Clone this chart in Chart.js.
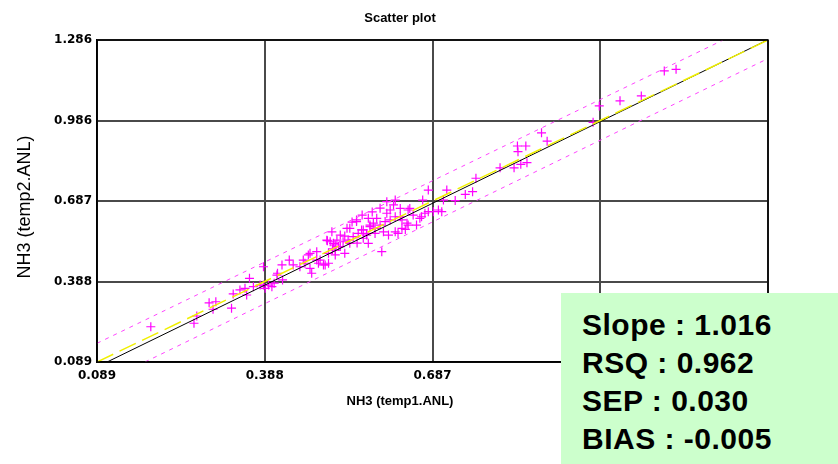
<!DOCTYPE html>
<html><head><meta charset="utf-8">
<script src="https://cdn.jsdelivr.net/npm/chart.js@4"></script>
<style>
html,body{margin:0;padding:0;background:#fff;}
#wrap{position:relative;width:838px;height:464px;overflow:hidden;}
#stats{position:absolute;left:561px;top:293px;width:277px;height:171px;background:#ccffcc;box-sizing:border-box;padding:13px 0 0 21px;font:bold 30px "Liberation Sans",Arial,sans-serif;line-height:38px;letter-spacing:0.5px;color:#000;white-space:nowrap;}
</style></head><body>
<div id="wrap"><canvas id="c" width="838" height="464"></canvas><div id="stats"></div></div>
<script>
const chartTitle = 'Scatter plot';
const xAxisTitle = 'NH3 (temp1.ANL)';
const yAxisTitle = 'NH3 (temp2.ANL)';
const tickLabels = ['0.089','0.388','0.687','0.986','1.286'];
const axisMin = 0.089, axisMax = 1.286;
const statLines = ['Slope : 1.016','RSQ : 0.962','SEP : 0.030','BIAS : -0.005'];

const xValues = [0.185,0.262,0.267,0.289,0.301,0.296,0.329,0.332,0.344,0.353,0.361,0.356,0.368,0.386,0.386,0.389,0.401,0.405,0.411,0.420,
0.419,0.432,0.439,0.451,0.460,0.466,0.472,0.481,0.484,0.493,0.502,0.505,0.514,0.487,0.500,0.508,0.511,0.517,0.523,0.528,
0.514,0.531,0.537,0.540,0.552,0.555,0.561,0.564,0.570,0.576,0.573,0.582,0.585,0.588,0.594,0.600,0.603,0.597,0.606,0.612,
0.618,0.621,0.630,0.633,0.606,0.621,0.680,0.713,0.746,0.670,0.707,0.728,0.698,0.680,0.668,0.689,0.644,0.653,0.642,0.659,
0.633,0.621,0.609,0.704,0.674,0.665,0.647,0.630,0.644,0.639,0.626,0.759,0.765,0.502,0.514,0.509,0.520,0.540,0.546,0.570,
0.564,0.576,0.585,0.535,0.552,0.573,0.499,0.469,0.457,0.481,0.496,0.469,0.410,0.395,0.380,0.523,0.544,0.562,0.580,0.594,
0.612,0.553,0.531,1.101,1.122,1.060,1.022,0.985,0.974,0.882,0.892,0.839,0.854,0.840,0.808,0.833,0.845,0.856];
const yValues = [0.220,0.233,0.260,0.309,0.313,0.285,0.289,0.342,0.357,0.363,0.400,0.338,0.369,0.443,0.375,0.363,0.369,0.382,0.419,0.394,
0.450,0.468,0.450,0.443,0.456,0.487,0.419,0.499,0.456,0.450,0.456,0.536,0.524,0.468,0.540,0.573,0.530,0.542,0.518,0.536,
0.505,0.493,0.542,0.586,0.617,0.567,0.580,0.549,0.567,0.592,0.530,0.605,0.567,0.623,0.598,0.573,0.611,0.499,0.642,0.654,
0.673,0.629,0.660,0.617,0.685,0.691,0.728,0.728,0.712,0.691,0.691,0.689,0.654,0.648,0.629,0.648,0.654,0.635,0.605,0.598,
0.586,0.573,0.561,0.648,0.642,0.623,0.660,0.629,0.598,0.582,0.567,0.722,0.772,0.493,0.487,0.510,0.518,0.530,0.555,0.561,
0.580,0.598,0.586,0.586,0.611,0.623,0.542,0.493,0.468,0.468,0.450,0.437,0.412,0.375,0.375,0.561,0.609,0.635,0.647,0.661,
0.617,0.531,0.557,1.171,1.177,1.078,1.060,1.041,0.980,0.941,0.910,0.892,0.892,0.871,0.811,0.811,0.824,0.830];

const identityX = [0.089, 1.286], identityY = [0.089, 1.286];
const regressionX = [0.107, 1.286], regressionY = [0.089, 1.287];
const upperX = [0.089, 1.206], upperY = [0.1585, 1.286];
const lowerX = [0.1746, 1.2806], lowerY = [0.089, 1.2117];

document.getElementById('stats').innerHTML = statLines.map(s => '<div>' + s + '</div>').join('');

const pts = (xs, ys) => xs.map((x, i) => ({x: x, y: ys[i]}));
const tickFont = {family: '"DejaVu Sans"', size: 12, weight: 'bold'};

const titlesPlugin = {
  id: 'titles',
  afterDraw(chart) {
    const ctx = chart.ctx, a = chart.chartArea;
    ctx.save();
    ctx.strokeStyle = '#000'; ctx.lineWidth = 1.5;
    ctx.strokeRect(a.left, a.top, a.right - a.left, a.bottom - a.top);
    ctx.fillStyle = '#000';
    ctx.textAlign = 'center'; ctx.textBaseline = 'alphabetic';
    ctx.font = 'bold 13px "Liberation Sans"';
    ctx.fillText(chartTitle, 400, 22);
    ctx.fillText(xAxisTitle, 400, 405);
    ctx.translate(30, 207); ctx.rotate(-Math.PI / 2);
    ctx.font = '18px "Liberation Sans"';
    ctx.fillText(yAxisTitle, 0, 0);
    ctx.restore();
  }
};

const setTicks = s => { s.ticks = tickLabels.map((_, i) => ({value: axisMin + i * (axisMax - axisMin) / (tickLabels.length - 1)})); };

new Chart(document.getElementById('c'), {
  type: 'scatter',
  data: {
    datasets: [
      {data: pts(identityX, identityY), showLine: true, borderColor: '#f0f000', borderWidth: 1.5, borderDash: [18, 7], pointRadius: 0, order: 0},
      {data: pts(regressionX, regressionY), showLine: true, borderColor: '#000', borderWidth: 1, pointRadius: 0, order: 1},
      {data: pts(upperX, upperY), showLine: true, borderColor: '#ff44ff', borderWidth: 1, borderDash: [4, 5], pointRadius: 0, order: 2},
      {data: pts(lowerX, lowerY), showLine: true, borderColor: '#ff44ff', borderWidth: 1, borderDash: [4, 5], pointRadius: 0, order: 2},
      {data: pts(xValues, yValues), pointStyle: 'cross', pointRadius: 4.5, borderColor: '#ff00ff', backgroundColor: '#ff00ff', borderWidth: 1.2, order: 5}
    ]
  },
  options: {
    responsive: false, devicePixelRatio: 1, animation: false,
    layout: {padding: {top: 40, right: 70, left: 0, bottom: 0}},
    plugins: {legend: {display: false}, tooltip: {enabled: false}, title: {display: false}},
    scales: {
      x: {
        type: 'linear', min: axisMin, max: axisMax,
        afterBuildTicks: setTicks,
        afterFit: s => { s.height = 102; },
        ticks: {callback: (v, i) => tickLabels[i], font: tickFont, color: '#000', padding: 7, maxRotation: 0, autoSkip: false},
        grid: {color: '#4a4a4a', lineWidth: 2, drawTicks: false},
        border: {color: '#000', width: 1.5}
      },
      y: {
        type: 'linear', min: axisMin, max: axisMax,
        afterBuildTicks: setTicks,
        afterFit: s => { s.width = 97; },
        ticks: {callback: (v, i) => tickLabels[i], font: tickFont, color: '#000', padding: 5, autoSkip: false},
        grid: {color: '#4a4a4a', lineWidth: 2, drawTicks: false},
        border: {color: '#000', width: 1.5}
      }
    }
  },
  plugins: [titlesPlugin]
});
</script>
</body></html>
